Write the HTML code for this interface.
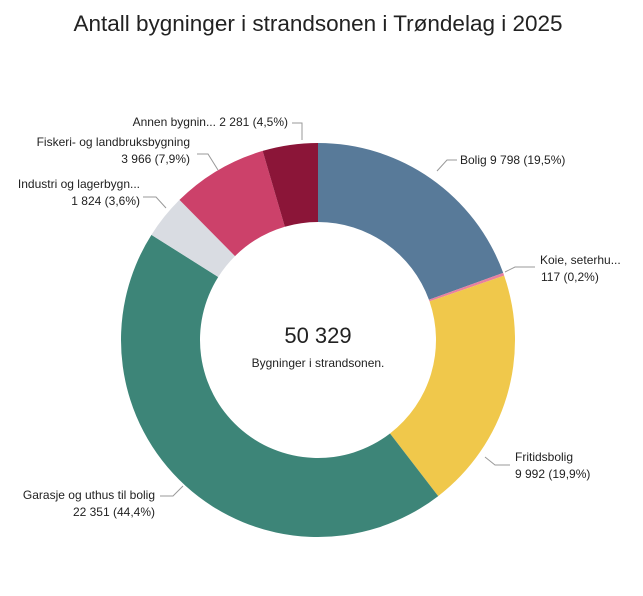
<!DOCTYPE html>
<html><head><meta charset="utf-8"><style>
body{margin:0;background:#fff;width:643px;height:591px;overflow:hidden}
text{font-family:"Liberation Sans",sans-serif;fill:#222}
</style></head><body>
<svg id="s" width="643" height="591" xmlns="http://www.w3.org/2000/svg">
<text x="318" y="31" font-size="22.5" text-anchor="middle" fill="#000">Antall bygninger i strandsonen i Trøndelag i 2025</text>
<g id="slices"></g>
<text x="318" y="343" font-size="22" text-anchor="middle">50 329</text>
<text x="318" y="367" font-size="12" text-anchor="middle">Bygninger i strandsonen.</text>
<g fill="none" stroke="#999" stroke-width="1">
<polyline points="437,171 447,160 457,160"/>
<polyline points="505,272 515,267 535,267"/>
<polyline points="485,457 495,465 510,465"/>
<polyline points="183,486 173,496 160,496"/>
<polyline points="166,208 156,197 143,197"/>
<polyline points="218,170 208,154 197,154"/>
<polyline points="302,140 302,123 292,123"/>
</g>
<g font-size="12">
<text x="460" y="164">Bolig 9 798 (19,5%)</text>
<text x="540" y="264">Koie, seterhu...</text>
<text x="541" y="281">117 (0,2%)</text>
<text x="515" y="461">Fritidsbolig</text>
<text x="515" y="478">9 992 (19,9%)</text>
<text x="155" y="499" text-anchor="end">Garasje og uthus til bolig</text>
<text x="155" y="516" text-anchor="end">22 351 (44,4%)</text>
<text x="140" y="188" text-anchor="end">Industri og lagerbygn...</text>
<text x="140" y="205" text-anchor="end">1 824 (3,6%)</text>
<text x="190" y="146" text-anchor="end">Fiskeri- og landbruksbygning</text>
<text x="190" y="163" text-anchor="end">3 966 (7,9%)</text>
<text x="288" y="126" text-anchor="end">Annen bygnin... 2 281 (4,5%)</text>
</g>
</svg>
<script>
var d=[[9798,"#587a99"],[117,"#e8809f"],[9992,"#f0c84b"],[22351,"#3d8578"],[1824,"#d9dce2"],[3966,"#cc416a"],[2281,"#8b1538"]];
var cx=318,cy=340,R=197,r=118,t=50329,a=0,h="";
function p(rad,ang){return [cx+rad*Math.sin(ang),cy-rad*Math.cos(ang)];}
d.forEach(function(e){var b=a+e[0]/t*2*Math.PI,l=(b-a)>Math.PI?1:0;
var p1=p(R,a),p2=p(R,b),p3=p(r,b),p4=p(r,a);
h+='<path fill="'+e[1]+'" d="M'+p1+' A'+R+','+R+' 0 '+l+' 1 '+p2+' L'+p3+' A'+r+','+r+' 0 '+l+' 0 '+p4+'Z"/>';a=b;});
document.getElementById("slices").innerHTML=h;
</script>
</body></html>
